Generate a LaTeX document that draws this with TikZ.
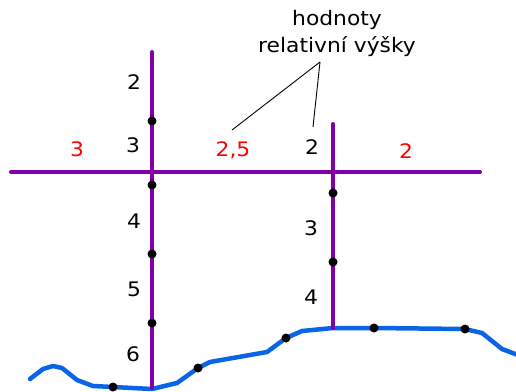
\documentclass[tikz,border=0pt]{standalone}
\usepackage{fontspec}
\setmainfont[FakeStretch=1.09]{DejaVu Sans}
\usepackage{xcolor}
\definecolor{profil}{HTML}{8200A8}
\definecolor{tok}{HTML}{0A64E6}
\definecolor{relred}{HTML}{FF0000}

\begin{document}
\begin{tikzpicture}[
    x=1pt,y=-1pt,
    lbl/.style={font=\fontsize{20}{24}\selectfont,inner sep=0pt},
    rel/.style={lbl,text=relred},
    pline/.style={draw=profil,line width=4pt,line cap=round},
    river/.style={draw=tok,line width=4.5pt,line cap=round,line join=round},
    pt/.style={circle,fill=black,inner sep=0pt,minimum size=9pt},
    note/.style={draw=black,line width=0.9pt}
]
\useasboundingbox (0,0) rectangle (516,391);
% profile lines
\coordinate (hl) at (11,172);
\coordinate (hr) at (480,172);
\coordinate (at) at (152,52);
\coordinate (ab) at (152,388);
\coordinate (bt) at (333,124);
\coordinate (bb) at (333,328);
% river
\draw[river] (30,379) -- (43,369) -- (53,366) -- (62,368) -- (77,380) -- (93,386)
    -- (113,387) -- (152,389) -- (177,383) -- (198,368) -- (210,362) -- (267,352)
    -- (286,338) -- (302,331) -- (333,328) -- (374,328) -- (465,329) -- (482,333)
    -- (502,349) -- (518,355);
\draw[pline] (hl) -- (hr);
\draw[pline] (at) -- (ab);
\draw[pline] (bt) -- (bb);
% points
\node[pt] (a1) at (152,121) {};
\node[pt] (a2) at (152,185) {};
\node[pt] (a3) at (152,254) {};
\node[pt] (a4) at (152,323) {};
\node[pt] (b1) at (333,193) {};
\node[pt] (b2) at (333,262) {};
\node[pt] (r1) at (113,387) {};
\node[pt] (r2) at (198,368) {};
\node[pt] (r3) at (286,338) {};
\node[pt] (r4) at (374,328) {};
\node[pt] (r5) at (465,329) {};
% heights
\node[lbl] (ha1) at (134,82) {2};
\node[lbl] (ha2) at (133,145) {3};
\node[lbl] (ha3) at (134,221) {4};
\node[lbl] (ha4) at (134,289) {5};
\node[lbl] (ha5) at (133,354) {6};
\node[lbl] (hb1) at (312,147) {2};
\node[lbl] (hb2) at (311,228) {3};
\node[lbl] (hb3) at (311,297) {4};
\node[rel] (m1) at (77,149) {3};
\node[rel] (m2) at (233,150) {2,5};
\node[rel] (m3) at (406,151) {2};
% annotation
\node[lbl,align=center,font=\fontsize{20}{27}\selectfont] (title) at (337,33) {hodnoty\\relativní výšky};
\coordinate (tip) at (320,62);
\coordinate (e1) at (232,130);
\coordinate (e2) at (313,127);
\draw[note] (tip) -- (e1);
\draw[note] (tip) -- (e2);
\end{tikzpicture}
\end{document}
